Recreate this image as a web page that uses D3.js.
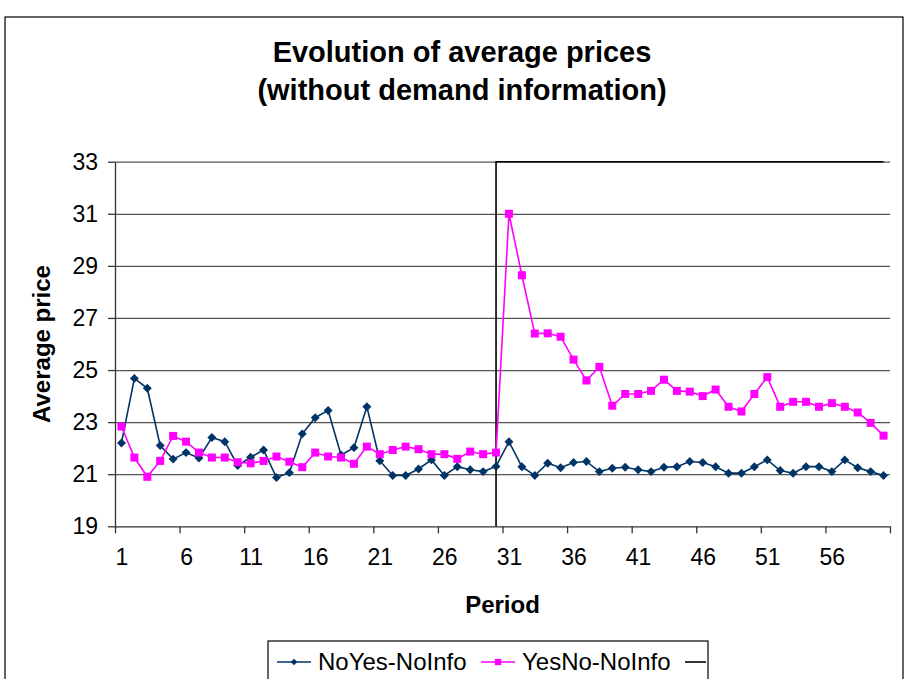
<!doctype html>
<html lang="en">
<head>
<meta charset="utf-8">
<title>Evolution of average prices</title>
<script src="https://cdn.jsdelivr.net/npm/d3@7"></script>
<style>
  body { margin: 0; background: #fff; }
  svg { display: block; font-family: Arial, "Liberation Sans", sans-serif; }
</style>
</head>
<body>
<div id="chart"></div>
<script>

// periods 1..60
var periods = [1,2,3,4,5,6,7,8,9,10,11,12,13,14,15,16,17,18,19,20,
               21,22,23,24,25,26,27,28,29,30,31,32,33,34,35,36,37,38,39,40,
               41,42,43,44,45,46,47,48,49,50,51,52,53,54,55,56,57,58,59,60];

// NoYes-NoInfo
var noYes = [22.2,24.68,24.3,22.1,21.58,21.83,21.62,22.41,22.25,21.33,
             21.65,21.93,20.87,21.06,22.55,23.17,23.45,21.74,22.02,23.59,
             21.52,20.95,20.95,21.2,21.55,20.95,21.29,21.17,21.1,21.3,
             22.25,21.29,20.95,21.42,21.25,21.45,21.49,21.1,21.23,21.27,
             21.17,21.1,21.27,21.29,21.49,21.45,21.29,21.04,21.04,21.29,
             21.55,21.14,21.04,21.29,21.29,21.1,21.55,21.25,21.1,20.95];

// YesNo-NoInfo
var yesNo = [22.83,21.64,20.9,21.51,22.47,22.25,21.83,21.64,21.64,21.46,
             21.42,21.51,21.68,21.48,21.27,21.83,21.68,21.64,21.4,22.06,
             21.77,21.93,22.06,21.96,21.77,21.77,21.59,21.87,21.77,21.83,
             31.0,28.64,26.4,26.41,26.28,25.4,24.6,25.12,23.63,24.08,
             24.08,24.2,24.63,24.2,24.17,24.0,24.25,23.59,23.41,24.08,
             24.73,23.59,23.78,23.78,23.59,23.73,23.59,23.37,22.97,22.48];

// unnamed third series: the treatment switch marker
var switchPeriods = [30, 30, 60];
var switchValues  = [19, 33, 33];

var yTicks = [19, 21, 23, 25, 27, 29, 31, 33];
var xTickLabels = [1, 6, 11, 16, 21, 26, 31, 36, 41, 46, 51, 56];
var seriesNames = ["NoYes-NoInfo", "YesNo-NoInfo", ""];

var width = 906, height = 679;
var plotLeft = 115, plotRight = 890, plotTop = 161.7, plotBottom = 526.3;

var svg = d3.select("#chart").append("svg")
    .attr("width", width)
    .attr("height", height);

// outer chart frame
svg.append("rect")
    .attr("x", 5).attr("y", 17)
    .attr("width", 898).attr("height", 700)
    .attr("fill", "none").attr("stroke", "#000").attr("stroke-width", 1.2);

var x = d3.scaleLinear().domain([0.5, 60.5]).range([plotLeft, plotRight]);
var y = d3.scaleLinear().domain([19, 33]).range([plotBottom, plotTop]);

// gridlines
svg.append("g")
    .attr("transform", "translate(" + plotLeft + ",0)")
    .call(d3.axisLeft(y).tickValues(yTicks.slice(1)).tickSize(-(plotRight - plotLeft)).tickFormat(""))
    .call(function(g) {
        g.select(".domain").remove();
        g.selectAll("line").attr("stroke", "#555").attr("stroke-width", 1.3);
    });

// y axis
svg.append("g")
    .attr("transform", "translate(" + plotLeft + ",0)")
    .call(d3.axisLeft(y).tickValues(yTicks).tickSize(7).tickPadding(10).tickSizeOuter(0))
    .call(function(g) {
        g.select(".domain").attr("stroke", "#333").attr("stroke-width", 1.3);
        g.selectAll("line").attr("stroke", "#333").attr("stroke-width", 1.3);
        g.selectAll("text").attr("font-size", 23).attr("fill", "#000")
            .attr("font-family", "Arial, 'Liberation Sans', sans-serif");
    });

// x axis tick marks at category boundaries
var boundaryTicks = xTickLabels.map(function(p) { return p - 0.5; }).concat([60.5]);
svg.append("g")
    .attr("transform", "translate(0," + plotBottom + ")")
    .call(d3.axisBottom(x).tickValues(boundaryTicks).tickSize(7).tickSizeOuter(0).tickFormat(""))
    .call(function(g) {
        g.select(".domain").attr("stroke", "#333").attr("stroke-width", 1.3);
        g.selectAll("line").attr("stroke", "#333").attr("stroke-width", 1.3);
    });

// x axis labels centred on categories
svg.append("g")
    .attr("transform", "translate(0," + plotBottom + ")")
    .call(d3.axisBottom(x).tickValues(xTickLabels).tickSize(0).tickPadding(22))
    .call(function(g) {
        g.select(".domain").remove();
        g.selectAll("text").attr("font-size", 23).attr("fill", "#000")
            .attr("font-family", "Arial, 'Liberation Sans', sans-serif");
    });

var line = d3.line()
    .x(function(d) { return x(d[0]); })
    .y(function(d) { return y(d[1]); });

var blueData = periods.map(function(p, i) { return [p, noYes[i]]; });
var pinkData = periods.map(function(p, i) { return [p, yesNo[i]]; });
var switchData = switchPeriods.map(function(p, i) { return [p, switchValues[i]]; });

var blue = "#003366", pink = "#FF00FF";

svg.append("path").datum(switchData)
    .attr("d", line).attr("fill", "none").attr("stroke", "#000").attr("stroke-width", 1.6);

svg.append("path").datum(blueData)
    .attr("d", line).attr("fill", "none").attr("stroke", blue).attr("stroke-width", 1.6);

svg.append("path").datum(pinkData)
    .attr("d", line).attr("fill", "none").attr("stroke", pink).attr("stroke-width", 1.6);

var diamond = d3.symbol().type(d3.symbolSquare).size(40);
var square = d3.symbol().type(d3.symbolSquare).size(64);

svg.append("g").selectAll("path")
    .data(blueData).enter().append("path")
    .attr("d", diamond)
    .attr("transform", function(d) { return "translate(" + x(d[0]) + "," + y(d[1]) + ") rotate(45)"; })
    .attr("fill", blue);

svg.append("g").selectAll("path")
    .data(pinkData).enter().append("path")
    .attr("d", square)
    .attr("transform", function(d) { return "translate(" + x(d[0]) + "," + y(d[1]) + ")"; })
    .attr("fill", pink);

// titles
svg.append("text")
    .attr("x", 462).attr("y", 62)
    .attr("text-anchor", "middle").attr("font-size", 29).attr("font-weight", "bold")
    .text("Evolution of average prices");
svg.append("text")
    .attr("x", 462).attr("y", 100)
    .attr("text-anchor", "middle").attr("font-size", 29).attr("font-weight", "bold")
    .text("(without demand information)");

svg.append("text")
    .attr("x", (plotLeft + plotRight) / 2).attr("y", 613)
    .attr("text-anchor", "middle").attr("font-size", 24).attr("font-weight", "bold")
    .text("Period");

svg.append("text")
    .attr("transform", "translate(50," + ((plotTop + plotBottom) / 2) + ") rotate(-90)")
    .attr("text-anchor", "middle").attr("font-size", 24).attr("font-weight", "bold")
    .text("Average price");

// legend
var legend = svg.append("g");
legend.append("rect")
    .attr("x", 268).attr("y", 641).attr("width", 440).attr("height", 60)
    .attr("fill", "#fff").attr("stroke", "#000").attr("stroke-width", 1.2);

var legendX = [277, 481, 685];
var legendColors = [blue, pink, "#000"];
legendX.forEach(function(lx, i) {
    legend.append("line")
        .attr("x1", lx).attr("x2", Math.min(lx + 34, 706)).attr("y1", 662).attr("y2", 662)
        .attr("stroke", legendColors[i]).attr("stroke-width", 1.6);
    if (i == 0) {
        legend.append("path").attr("d", d3.symbol().type(d3.symbolSquare).size(22))
            .attr("transform", "translate(" + (lx + 17) + ",662) rotate(45)").attr("fill", blue);
    } else if (i == 1) {
        legend.append("path").attr("d", d3.symbol().type(d3.symbolSquare).size(40))
            .attr("transform", "translate(" + (lx + 17) + ",662)").attr("fill", pink);
    }
    legend.append("text")
        .attr("x", lx + 41).attr("y", 670)
        .attr("font-size", 24)
        .text(seriesNames[i]);
});

</script>
</body>
</html>
